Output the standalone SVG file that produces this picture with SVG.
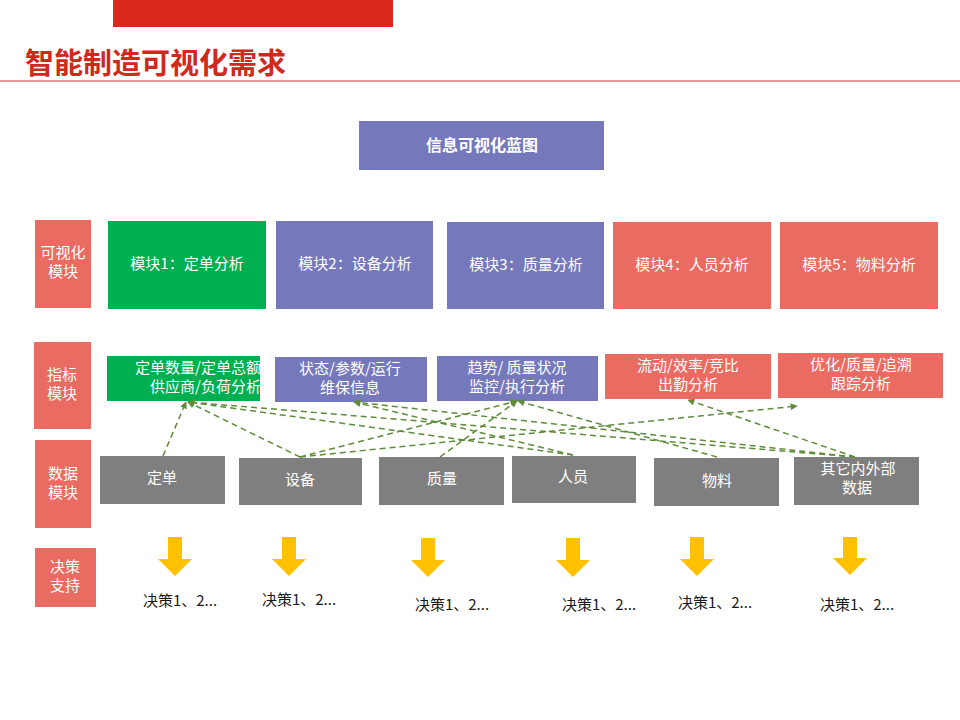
<svg xmlns="http://www.w3.org/2000/svg" width="960" height="720" viewBox="0 0 960 720">
<defs>
<style>
text{font-family:"Noto Sans CJK SC","Liberation Sans",sans-serif;}
.w{fill:#fff;font-size:15px;text-anchor:middle;}
.d{fill:#1a1a1a;font-size:15px;text-anchor:middle;}
.sal{fill:#E96B62;}
.pur{fill:#7579BC;}
.grn{fill:#00B050;}
.gry{fill:#7F7F7F;}
.conn line{stroke:#5E8C3A;stroke-width:1.5;stroke-dasharray:6 4;fill:none;marker-end:url(#ah);}
.ya{fill:#FFC000;}
</style>
<marker id="ah" viewBox="0 0 10 10" refX="9" refY="5" markerWidth="8" markerHeight="7" markerUnits="userSpaceOnUse" orient="auto">
<path d="M0,0 L10,5 L0,10 z" fill="#5E8C3A"/>
</marker>
</defs>
<rect width="960" height="720" fill="#fff"/>
<g id="header">
<rect x="113" y="0" width="280" height="27" fill="#D9291C"/>
<text x="25" y="74" style="font-size:29px;font-weight:bold;fill:#D1281C;">智能制造可视化需求</text>
<line x1="0" y1="81" x2="960" y2="81" stroke="#C8372D" stroke-width="1"/>
</g>
<g id="blueprint">
<rect x="359" y="121" width="245" height="49" class="pur"/>
<text x="482" y="151" class="w" style="font-size:16px;font-weight:bold;">信息可视化蓝图</text>
</g>
<g id="label-vis"><rect x="35" y="220" width="56" height="88" class="sal"/><text x="63" y="258" class="w">可视化</text><text x="63" y="277" class="w">模块</text></g>
<g id="label-idx"><rect x="34" y="342" width="57" height="87" class="sal"/><text x="62" y="380" class="w">指标</text><text x="62" y="399" class="w">模块</text></g>
<g id="label-data"><rect x="35" y="440" width="56" height="88" class="sal"/><text x="63" y="479" class="w">数据</text><text x="63" y="498" class="w">模块</text></g>
<g id="label-dec"><rect x="35" y="548" width="61" height="59" class="sal"/><text x="65" y="572" class="w">决策</text><text x="65" y="591" class="w">支持</text></g>
<g id="m1"><rect x="108" y="221" width="158" height="88" class="grn"/><text x="187" y="269" class="w">模块1：定单分析</text></g>
<g id="m2"><rect x="276" y="221" width="157" height="88" class="pur"/><text x="355" y="269" class="w">模块2：设备分析</text></g>
<g id="m3"><rect x="447" y="222" width="157" height="87" class="pur"/><text x="526" y="270" class="w">模块3：质量分析</text></g>
<g id="m4"><rect x="613" y="222" width="158" height="87" class="sal"/><text x="692" y="270" class="w">模块4：人员分析</text></g>
<g id="m5"><rect x="780" y="222" width="158" height="87" class="sal"/><text x="859" y="270" class="w">模块5：物料分析</text></g>
<g id="i1"><rect x="107" y="356" width="153" height="45" class="grn"/><text x="261" y="373" class="w" style="text-anchor:end">定单数量/定单总额</text><text x="261" y="392" class="w" style="text-anchor:end">供应商/负荷分析</text></g>
<g id="i2"><rect x="275" y="357" width="152" height="45" class="pur"/><text x="350" y="374" class="w">状态/参数/运行</text><text x="350" y="393" class="w">维保信息</text></g>
<g id="i3"><rect x="437" y="356" width="161" height="45" class="pur"/><text x="517" y="373" class="w">趋势/ 质量状况</text><text x="517" y="392" class="w">监控/执行分析</text></g>
<g id="i4"><rect x="605" y="354" width="166" height="45" class="sal"/><text x="688" y="371" class="w">流动/效率/竞比</text><text x="688" y="390" class="w">出勤分析</text></g>
<g id="i5"><rect x="778" y="353" width="165" height="45" class="sal"/><text x="861" y="370" class="w">优化/质量/追溯</text><text x="861" y="389" class="w">跟踪分析</text></g>
<g id="d1"><rect x="100" y="456" width="125" height="48" class="gry"/><text x="162" y="483" class="w">定单</text></g>
<g id="d2"><rect x="239" y="458" width="123" height="47" class="gry"/><text x="300" y="485" class="w">设备</text></g>
<g id="d3"><rect x="379" y="457" width="125" height="48" class="gry"/><text x="442" y="484" class="w">质量</text></g>
<g id="d4"><rect x="512" y="456" width="124" height="47" class="gry"/><text x="573" y="482" class="w">人员</text></g>
<g id="d5"><rect x="654" y="458" width="125" height="48" class="gry"/><text x="717" y="486" class="w">物料</text></g>
<g id="d6"><rect x="794" y="457" width="125" height="48" class="gry"/><text x="858" y="474" class="w">其它内外部</text><text x="857" y="493" class="w">数据</text></g>
<g class="conn" id="connectors">
<line x1="163" y1="456" x2="186" y2="402"/>
<line x1="300" y1="457" x2="188" y2="402"/>
<line x1="573" y1="455" x2="188" y2="402"/>
<line x1="855" y1="457" x2="188" y2="402"/>
<line x1="855" y1="457" x2="354" y2="402"/>
<line x1="573" y1="455" x2="354" y2="402"/>
<line x1="300" y1="457" x2="517" y2="401"/>
<line x1="440" y1="457" x2="517" y2="401"/>
<line x1="717" y1="457" x2="518" y2="401"/>
<line x1="855" y1="457" x2="688" y2="400"/>
<line x1="300" y1="457" x2="797" y2="406"/>
</g>
<g id="decisions">
<polygon class="ya" points="168,537 182,537 182,559 192,559 175,576 158,559 168,559"/>
<polygon class="ya" points="282,537 296,537 296,559 306,559 289,576 272,559 282,559"/>
<polygon class="ya" points="421,538 435,538 435,560 445,560 428,577 411,560 421,560"/>
<polygon class="ya" points="566,538 580,538 580,560 590,560 573,577 556,560 566,560"/>
<polygon class="ya" points="690,537 704,537 704,559 714,559 697,576 680,559 690,559"/>
<polygon class="ya" points="843,537 857,537 857,558 867,558 850,575 833,558 843,558"/>
<text x="180" y="606" class="d">决策1、2...</text>
<text x="299" y="605" class="d">决策1、2...</text>
<text x="452" y="610" class="d">决策1、2...</text>
<text x="599" y="610" class="d">决策1、2...</text>
<text x="715" y="608" class="d">决策1、2...</text>
<text x="857" y="610" class="d">决策1、2...</text>
</g>
</svg>
